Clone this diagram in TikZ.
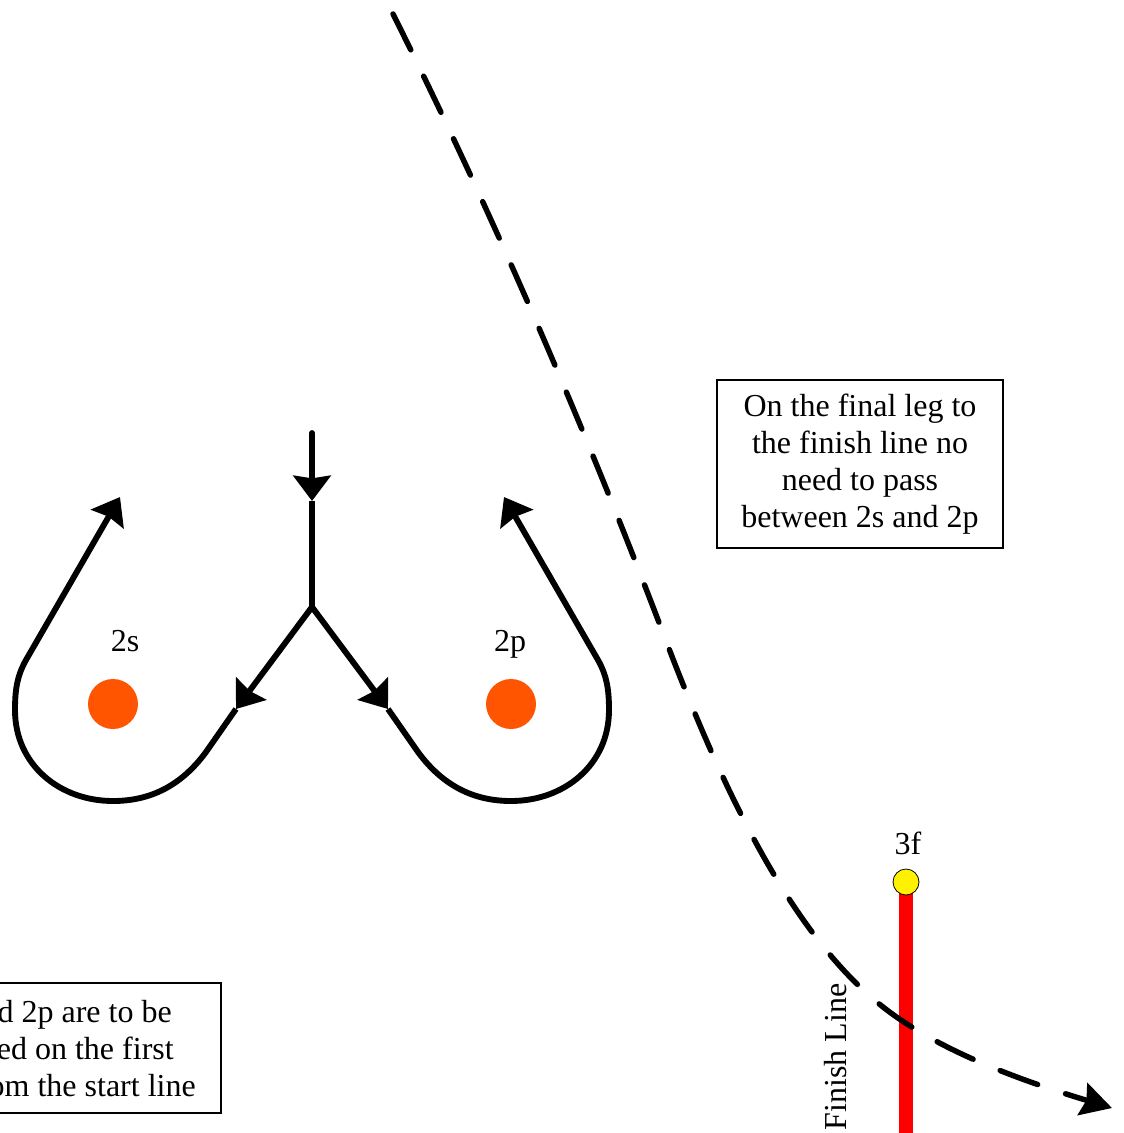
\documentclass[tikz,border=0pt]{standalone}
\usepackage{fontspec}
\setmainfont{Liberation Serif}
\usetikzlibrary{arrows.meta}
\definecolor{markor}{RGB}{255,85,0}
\begin{document}
\begin{tikzpicture}[x=0.75pt,y=-0.75pt,
  route/.style={line width=4.4pt, line join=round},
  tip/.style={-{Stealth[length=19pt,width=28pt,inset=2pt]}},
  lbl/.style={font=\fontsize{24}{27.75}\selectfont, inner sep=0pt},
  notebox/.style={draw, line width=1.1pt, inner sep=0pt},
  buoy/.style={circle, fill=markor, minimum size=37.5pt, inner sep=0pt},
  ]
\useasboundingbox (0,0) rectangle (1124,1133);
\clip (0,0) rectangle (1124,1133);

% marks
\node[buoy] (m2s) at (113,704) {};
\node[buoy] (m2p) at (511,704) {};
\node[lbl, anchor=base] (l2s) at (125,651) {2s};
\node[lbl, anchor=base] (l2p) at (510,651) {2p};

% key points
\coordinate (top) at (312,433);
\coordinate (J) at (312,607);
\coordinate (aD) at (312,501);
\coordinate (aL) at (236,709);
\coordinate (aR) at (388,709);
\coordinate (tL) at (120,497);
\coordinate (tR) at (504,497);

% stem
\draw[route, line cap=round, tip] (top) -- (aD);
\draw[route] (aD) -- (J);

% left loop
\draw[route, tip] (J) -- (aL);
\draw[route, tip] (aL) -- (206,752) .. controls (181,786) and (150,801) .. (113,801)
  .. controls (60,801) and (15,765) .. (15,710)
  .. controls (15,690) and (17,676) .. (26,660) -- (tL);

% right loop
\draw[route, tip] (J) -- (aR);
\draw[route, tip] (aR) -- (418,752) .. controls (443,786) and (474,801) .. (511,801)
  .. controls (564,801) and (609,765) .. (609,710)
  .. controls (609,690) and (607,676) .. (598,660) -- (tR);

% finish line
\coordinate (finB) at (906,1140);
\draw[line width=10.5pt, red] (906,890) -- (finB);
\node[circle, draw=black, line width=0.6pt, fill=yellow, minimum size=19.5pt, inner sep=0pt] (m3f) at (906,882) {};
\node[lbl, anchor=base] (l3f) at (908,854) {3f};
\node[lbl, rotate=90, anchor=base] (lfin) at (846,1057) {Finish Line};

% final leg
\coordinate (dS) at (393,14);
\coordinate (dE) at (1112,1108);
\draw[line width=4.1pt, line join=round, line cap=round, dash pattern=on 30pt off 22pt,
  -{Stealth[length=23pt,width=25pt,inset=3pt]}]
  (dS) .. controls (493,214) and (587,433) .. (663,633)
  .. controls (726,799) and (800,955) .. (904,1022)
  .. controls (964,1062) and (1046,1088) .. (dE);

% notes
\node[notebox, lbl, align=center, minimum width=214.5pt, minimum height=126pt] (note1) at (860,464)
  {On the final leg to\\the finish line no\\need to pass\\between 2s and 2p};
\node[notebox, minimum width=180.75pt, minimum height=97.5pt] (note2) at (100.5,1048) {};
\node[lbl, anchor=base east] (n2a) at (172,1022) {d 2p are to be};
\node[lbl, anchor=base east] (n2b) at (174,1059) {ed on the first};
\node[lbl, anchor=base east] (n2c) at (196,1096) {om the start line};
\end{tikzpicture}
\end{document}
